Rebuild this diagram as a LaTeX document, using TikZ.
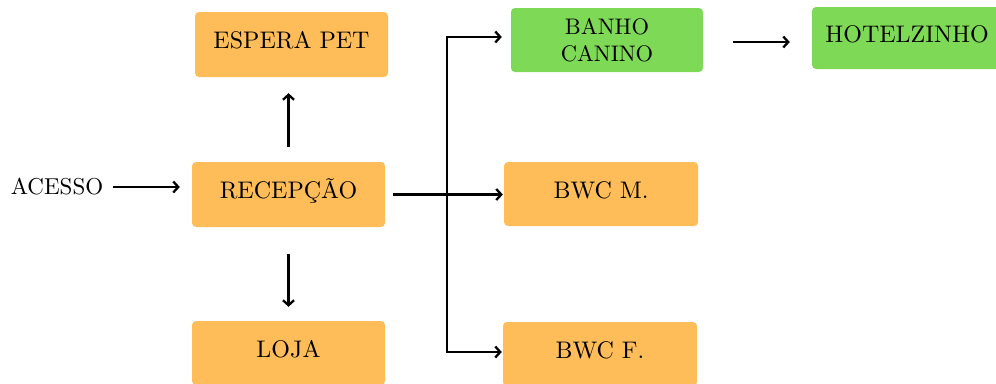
\documentclass[tikz,border=0pt]{standalone}
\usepackage{fontspec}
\setmainfont{lmroman10-regular.otf}
\usetikzlibrary{arrows.meta}
\definecolor{orng}{HTML}{FFBD59}
\definecolor{grn}{HTML}{7ED957}
\begin{document}
\begin{tikzpicture}[x=1pt,y=-1pt,
  box/.style={rounded corners=4pt, inner sep=0pt, font=\fontsize{24}{27}\selectfont, align=center},
  one/.style={text height=16pt, text depth=8pt},
  ob/.style={box, one, fill=orng},
  gb/.style={box, fill=grn},
  arr/.style={line width=2.3pt, -{Straight Barb[length=5pt,width=11pt,line width=2.3pt]}},
  barr/.style={line width=2.3pt, {Straight Barb[length=5pt,width=11pt,line width=2.3pt]}-{Straight Barb[length=5pt,width=11pt,line width=2.3pt]}}]
\useasboundingbox (0,0) rectangle (996,383);
\node[ob, minimum width=193pt, minimum height=65pt] (espera) at (291.5,44.5) {ESPERA PET};
\node[ob, minimum width=193pt, minimum height=65pt] (recepcao) at (288.5,194.5) {RECEPÇÃO};
\node[ob, minimum width=193pt, minimum height=64pt] (loja) at (288.5,353) {LOJA};
\node[gb, minimum width=192pt, minimum height=64pt, font=\fontsize{22.5}{27.5}\selectfont] (banho) at (607,40) {BANHO\\CANINO};
\node[gb, one, minimum width=190pt, minimum height=62pt] (hotel) at (907,38) {HOTELZINHO};
\node[ob, minimum width=194pt, minimum height=64pt] (bwcm) at (601,194) {BWC M.};
\node[ob, minimum width=194pt, minimum height=64pt] (bwcf) at (600,354) {BWC F.};
\node[font=\fontsize{23}{27}\selectfont, inner sep=5pt] (acesso) at (57,187) {ACESSO};
\coordinate (jt) at (447,37);
\coordinate (jb) at (447,352);
\draw[arr, shorten <=5pt, shorten >=12pt] (acesso.east) -- (acesso.east -| recepcao.west);
\draw[arr, shorten <=15pt, shorten >=16pt] (recepcao.north) -- (espera.south -| recepcao.north);
\draw[arr, shorten <=27pt, shorten >=14pt] (recepcao.south) -- (loja.north);
\draw[arr, shorten <=8pt, shorten >=1pt] (recepcao.east) -- (recepcao.east -| bwcm.west);
\draw[barr, shorten <=9pt, shorten >=1pt, line join=miter] (banho.west |- jt) -- (jt) -- (jb) -- (bwcf.west |- jb);
\draw[arr, shorten <=30pt, shorten >=22pt] (banho.east |- hotel.west) ++(0,4) coordinate (hs) (hs) -- (hs -| hotel.west);
\end{tikzpicture}
\end{document}
